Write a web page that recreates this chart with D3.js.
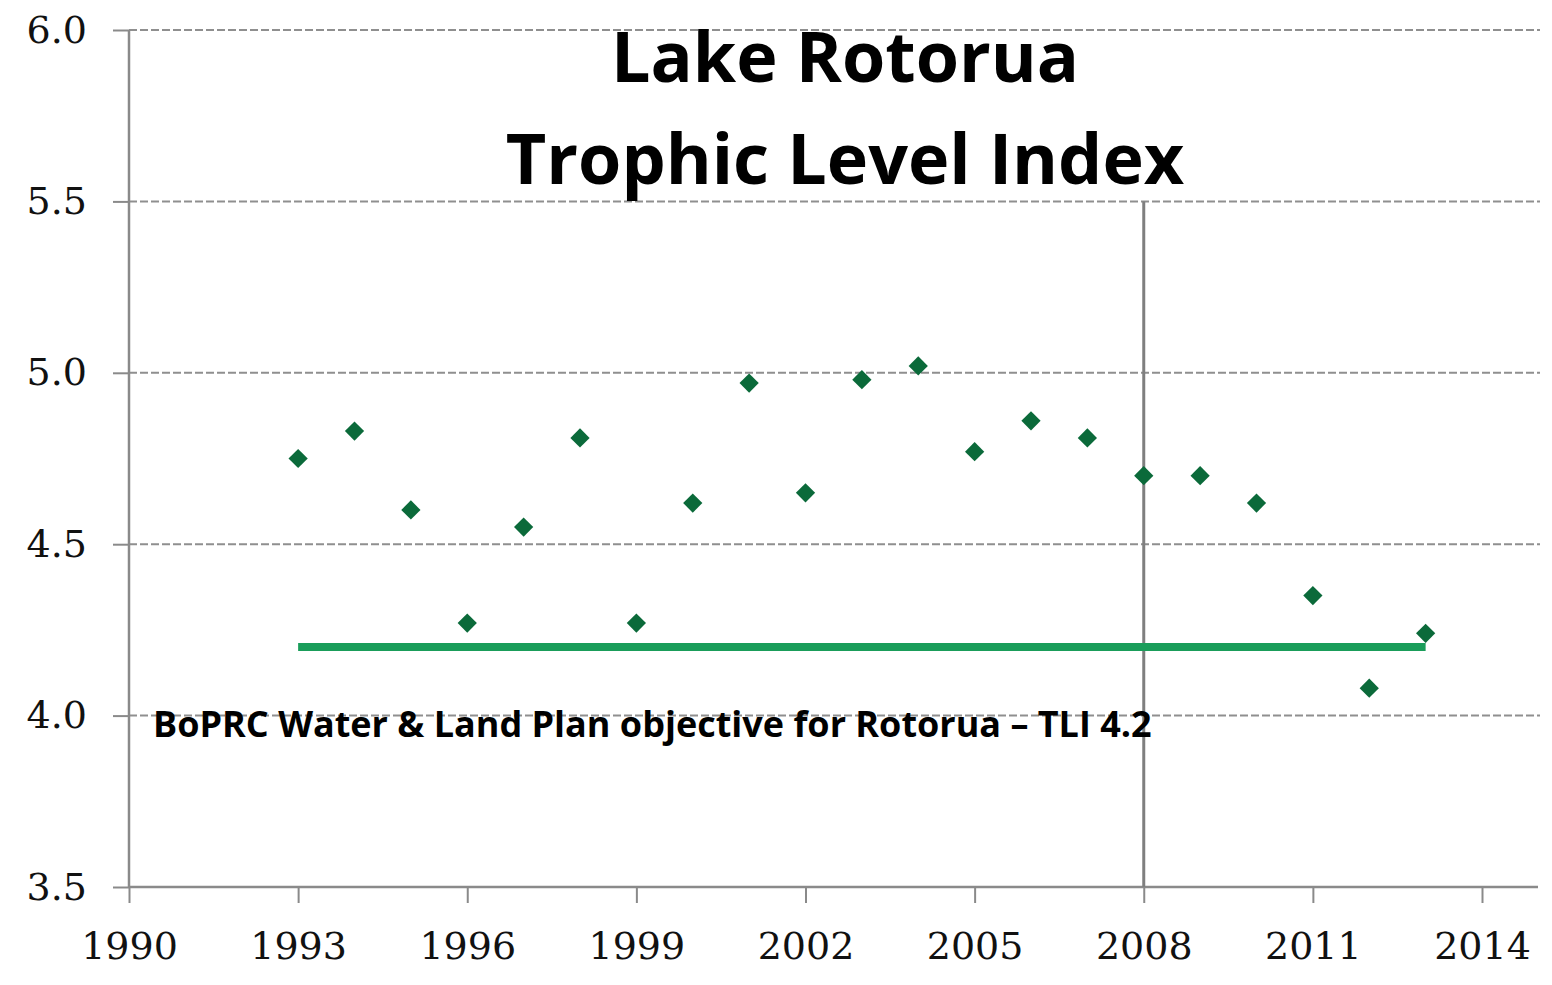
<!DOCTYPE html>
<html>
<head>
<meta charset="utf-8">
<script src="https://cdn.jsdelivr.net/npm/d3@7"></script>
<style>
  body { margin: 0; background: #fff; }
  svg { display: block; }
</style>
</head>
<body>
<svg width="1552" height="985"></svg>
<script>
// TLI by year
var years = [1993, 1994, 1995, 1996, 1997, 1998, 1999, 2000, 2001, 2002, 2003,
             2004, 2005, 2006, 2007, 2008, 2009, 2010, 2011, 2012, 2013];
var tli = [4.75, 4.83, 4.60, 4.27, 4.55, 4.81, 4.27, 4.62, 4.97, 4.65, 4.98,
           5.02, 4.77, 4.86, 4.81, 4.70, 4.70, 4.62, 4.35, 4.08, 4.24];
var objective = 4.2;
var objectiveYears = [1993, 2013];
var markerYear = 2008;
var xTicks = [1990, 1993, 1996, 1999, 2002, 2005, 2008, 2011, 2014];
var yTicks = [3.5, 4.0, 4.5, 5.0, 5.5, 6.0];

var svg = d3.select('svg');
var pLeft = 129, pRight = 1538, pTop = 30, pBottom = 887;

var x = d3.scaleLinear().domain([1990, 2014]).range([pLeft, 1482]);
var y = d3.scaleLinear().domain([3.5, 6.0]).range([pBottom, pTop]);

// dashed gridlines
svg.append('g').selectAll('line').data(yTicks.filter(function (d) { return d > 3.5; }))
  .enter().append('line')
  .attr('x1', pLeft).attr('x2', 1540)
  .attr('y1', function (d) { return y(d); }).attr('y2', function (d) { return y(d); })
  .attr('stroke', '#8f8f8f').attr('stroke-width', 2).attr('stroke-dasharray', '8,3');

// y axis
var yAxis = svg.append('g').attr('transform', 'translate(' + pLeft + ',0)')
  .call(d3.axisLeft(y).tickValues(yTicks).tickFormat(d3.format('.1f')).tickSize(16).tickPadding(26));
// x axis
var xAxis = svg.append('g').attr('transform', 'translate(0,' + pBottom + ')')
  .call(d3.axisBottom(x).tickValues(xTicks).tickFormat(d3.format('d')).tickSize(16).tickPadding(29));

[yAxis, xAxis].forEach(function (a) {
  a.select('.domain').remove();
  a.selectAll('line').attr('stroke', '#8a8a8a').attr('stroke-width', 2);
  a.selectAll('text').attr('fill', '#111').style('font-family', '"DejaVu Serif", serif').style('font-size', '38px');
});
svg.append('line').attr('x1', pLeft).attr('x2', pLeft).attr('y1', pTop).attr('y2', pBottom)
  .attr('stroke', '#8a8a8a').attr('stroke-width', 2.5);
svg.append('line').attr('x1', pLeft).attr('x2', pRight).attr('y1', pBottom).attr('y2', pBottom)
  .attr('stroke', '#8a8a8a').attr('stroke-width', 2.5);

// 2008 vertical line
svg.append('line').attr('x1', x(markerYear)).attr('x2', x(markerYear))
  .attr('y1', y(5.5)).attr('y2', pBottom)
  .attr('stroke', '#7f7f7f').attr('stroke-width', 3);

// objective line
svg.append('line')
  .attr('x1', x(objectiveYears[0])).attr('x2', x(objectiveYears[1]))
  .attr('y1', y(objective)).attr('y2', y(objective))
  .attr('stroke', '#1a9d5a').attr('stroke-width', 8);

// diamonds
svg.append('g').selectAll('path').data(years)
  .enter().append('path')
  .attr('d', d3.symbol().type(d3.symbolSquare).size(185))
  .attr('transform', function (d, i) { return 'translate(' + x(d) + ',' + y(tli[i]) + ') rotate(45)'; })
  .attr('fill', '#0b6a3a');

// titles
var title = svg.append('text').attr('text-anchor', 'middle')
  .style('font-family', '"Open Sans", sans-serif').style('font-weight', 'bold')
  .style('font-size', '70px').attr('fill', '#000');
title.append('tspan').attr('x', 845).attr('y', 82).text('Lake Rotorua');
title.append('tspan').attr('x', 845).attr('y', 184).text('Trophic Level Index');

svg.append('text').attr('x', 153).attr('y', 737)
  .style('font-family', '"Open Sans", sans-serif').style('font-weight', 'bold')
  .style('font-size', '36px').attr('fill', '#000')
  .text('BoPRC Water & Land Plan objective for Rotorua \u2013 TLI 4.2');
</script>
</body>
</html>
